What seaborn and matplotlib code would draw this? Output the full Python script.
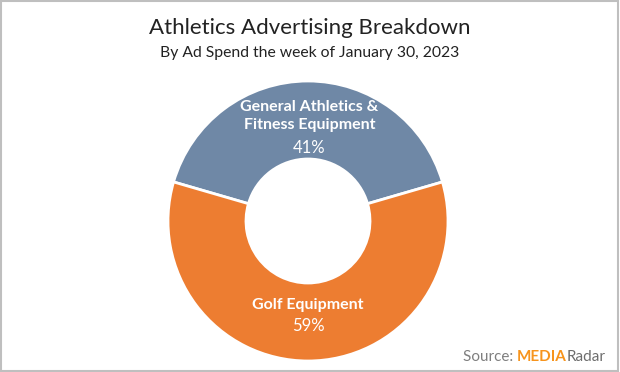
import matplotlib
matplotlib.use("Agg")
import matplotlib.pyplot as plt
import seaborn as sns
from matplotlib.patches import Rectangle

categories = ["General Athletics &\nFitness Equipment", "Golf Equipment"]
values = [41, 59]
pct_labels = ["41%", "59%"]
colors = ["#6F88A6", "#ED7D31"]

sns.set_theme(style="white")
plt.rcParams['font.family'] = ['Lato', 'DejaVu Sans']

fig = plt.figure(figsize=(6.2, 3.72), dpi=100)
fig.patch.set_facecolor("white")
fig.add_artist(Rectangle((0.002, 0.003), 0.995, 0.993, transform=fig.transFigure,
                         fill=False, edgecolor="#BFBFBF", linewidth=1.5))

W, H = 620, 372
cx, cy, R = 308, 221, 140
ax = fig.add_axes([(cx - R) / W, (H - cy - R) / H, 2 * R / W, 2 * R / H])
start = 90 - values[0] / sum(values) * 360 / 2
ax.pie(values, colors=colors, startangle=start, counterclock=True,
       wedgeprops=dict(width=1 - 62 / 140, edgecolor="white", linewidth=2))
ax.set_xlim(-1, 1)
ax.set_ylim(-1, 1)
ax.set_aspect("equal")
ax.axis("off")

ax.text(0.01, 0.75, categories[0], ha="center", va="center", color="white",
        fontsize=11.5, fontweight="bold", linespacing=1.3)
ax.text(0.01, 0.52, pct_labels[0], ha="center", va="center", color="white", fontsize=12)
ax.text(0.0, -0.6, categories[1], ha="center", va="center", color="white",
        fontsize=11.5, fontweight="bold")
ax.text(0.0, -0.75, pct_labels[1], ha="center", va="center", color="white", fontsize=12)

fig.text(310 / W, 1 - 28 / H, "Athletics Advertising Breakdown", ha="center", va="center",
         fontsize=16, color="#222222")
fig.text(310 / W, 1 - 53 / H, "By Ad Spend the week of January 30, 2023", ha="center",
         va="center", fontsize=11.3, color="#222222")

# Source line
fig.canvas.draw()
r = fig.canvas.get_renderer()
x = 463 / W
y = 1 - 357 / H
parts = [("Source: ", "#7F7F7F", "normal"), ("MEDIA", "#F7941D", "bold"), ("Radar", "#6D6D6D", "normal")]
for s, c, w in parts:
    t = fig.text(x, y, s, ha="left", va="center", fontsize=11, color=c, fontweight=w)
    bb = t.get_window_extent(renderer=r)
    x += bb.width / W

fig.savefig("out.png", dpi=100)
